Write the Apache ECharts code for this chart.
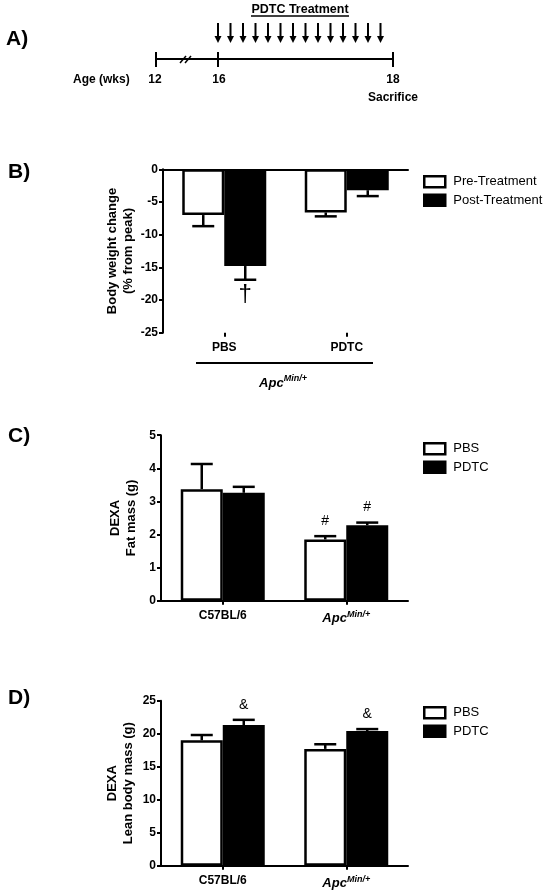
<!DOCTYPE html>
<html><head><meta charset="utf-8">
<script src="https://cdn.jsdelivr.net/npm/echarts@6/dist/echarts.min.js"></script>
<style>html,body{margin:0;padding:0;background:#fff}#c{width:550px;height:896px}</style>
</head><body><div id="c"></div>
<script>
const FONT = '"Liberation Sans", Arial, sans-serif';

// ---- Panel A (schematic): daily PDTC doses, days after week 16
const doseDays = [0,1,2,3,4,5,6,7,8,9,10,11,12,13];
const ageLabels = ['12','16','18'];

// ---- Panel B: body weight change (% from peak)
const bCategories = ['PBS','PDTC'];
const bPre = [-7.0, -6.6];
const bPreErr = [1.7, 0.6];
const bPost = [-14.8, -3.2];
const bPostErr = [2.1, 0.9];
const bPostMarks = ['\u2020',''];
const bTicks = {min:-25, max:0, interval:5};

// ---- Panel C: DEXA fat mass (g)
const cdCategories = ['C57BL/6','ApcMin/+'];
const cPBS = [3.37, 1.85];
const cPBSErr = [0.76, 0.10];
const cPDTC = [3.26, 2.28];
const cPDTCErr = [0.18, 0.08];
const cPBSMarks = ['', '#'];
const cPDTCMarks = ['', '#'];
const cTicks = {min:0, max:5, interval:1};

// ---- Panel D: DEXA lean body mass (g)
const dPBS = [19.0, 17.7];
const dPBSErr = [0.8, 0.7];
const dPDTC = [21.3, 20.4];
const dPDTCErr = [0.8, 0.3];
const dPBSMarks = ['', ''];
const dPDTCMarks = ['&', '&'];
const dTicks = {min:0, max:25, interval:5};

const BAR_W = 42;
const WHITE = {color:'#fff', borderColor:'#000', borderWidth:2.5};
const BLACK = {color:'#000', borderColor:'#000', borderWidth:2.5};

const catLabelFmt = v => v === 'ApcMin/+' ? '{i|Apc}{s|Min/+}' : v;
const richApc = {
  i:{fontFamily:FONT, fontWeight:'bold', fontStyle:'italic', fontSize:13, lineHeight:18, color:'#000'},
  s:{fontFamily:FONT, fontWeight:'bold', fontStyle:'italic', fontSize:9, lineHeight:10, verticalAlign:'top', color:'#000'}
};

function valueAxis(grid, t, name, gap){
  return {type:'value', gridIndex:grid, min:t.min, max:t.max, interval:t.interval,
    name:name, nameLocation:'middle', nameGap:gap, nameRotate:90,
    nameTextStyle:{fontFamily:FONT, fontWeight:'bold', fontSize:13, lineHeight:16, color:'#000'},
    axisLine:{show:true, lineStyle:{color:'#000', width:2}},
    axisTick:{show:true, length:4, lineStyle:{color:'#000', width:2}},
    axisLabel:{fontFamily:FONT, fontWeight:'bold', fontSize:12, color:'#000', margin:5},
    splitLine:{show:false}};
}
function catAxis(grid, cats, showLine){
  return {type:'category', gridIndex:grid, data:cats, position:'bottom',
    axisLine:{show:showLine, onZero:false, lineStyle:{color:'#000', width:2}},
    axisTick:{show:true, alignWithLabel:true, length:4, lineStyle:{color:'#000', width:2}},
    axisLabel:{fontFamily:FONT, fontWeight:'bold', fontSize:12, color:'#000', margin:9,
      formatter:catLabelFmt, rich:richApc}};
}
function barSeries(name, xi, yi, data, style){
  return {type:'bar', name:name, xAxisIndex:xi, yAxisIndex:yi, data:data,
    barWidth:BAR_W, barGap:'0%', itemStyle:style, emphasis:{disabled:true}, z:2};
}
function errSeries(xi, yi, vals, errs, marks, side, markSize){
  return {type:'custom', xAxisIndex:xi, yAxisIndex:yi, z:5, silent:true,
    data: vals.map((v,i)=>[i, v, errs[i]]),
    renderItem(params, api){
      const i = api.value(0), v = api.value(1), e = api.value(2);
      const sgn = v < 0 ? -1 : 1;
      const p0 = api.coord([i, v]);
      const p1 = api.coord([i, v + sgn*e]);
      const x = p0[0] + side*BAR_W/2;
      const st = {stroke:'#000', lineWidth:2.5};
      const ch = [
        {type:'line', shape:{x1:x, y1:p0[1], x2:x, y2:p1[1]}, style:st},
        {type:'line', shape:{x1:x-11, y1:p1[1], x2:x+11, y2:p1[1]}, style:st}
      ];
      const m = marks[params.dataIndex];
      if (m) ch.push({type:'text', style:{text:m, x:x, y:p1[1] + (sgn<0 ? 15 : -15),
        align:'center', verticalAlign:'middle', textAlign:'center', textVerticalAlign:'middle',
        font: markSize + 'px ' + FONT, fill:'#000'}});
      return {type:'group', children:ch};
    }};
}
function legend(top, names, styles){
  return {left:423, top:top, orient:'vertical', itemWidth:21, itemHeight:11, itemGap:5,
    padding:0, selectedMode:false, icon:'rect',
    data: names.map((n,k)=>({name:n, itemStyle:styles[k]})),
    textStyle:{fontFamily:FONT, fontSize:13, color:'#000', padding:[0,0,0,3]}};
}

const txt = (x,y,t,opt={}) => ({type:'text', x:x, y:y, style:Object.assign({text:t, fill:'#000',
  font:'bold 12px ' + FONT, align:'center', verticalAlign:'middle'}, opt)});
const ln = (x1,y1,x2,y2,w=2) => ({type:'line', shape:{x1,y1,x2,y2}, style:{stroke:'#000', lineWidth:w}});
const panelFont = 'bold 21px ' + FONT;

const option = {
  animation:false,
  backgroundColor:'#fff',
  grid:[
    {left:218, width:175, top:23, height:20},
    {left:163, width:245, top:169.3, height:163.4},
    {left:161, width:247, top:435.2, height:165.5},
    {left:161, width:247, top:700.7, height:165}
  ],
  xAxis:[
    {type:'value', gridIndex:0, min:16, max:18, show:false},
    catAxis(1, bCategories, false),
    {type:'category', gridIndex:1, data:bCategories, position:'top',
      axisLine:{show:true, onZero:false, lineStyle:{color:'#000', width:2}},
      axisTick:{show:false}, axisLabel:{show:false}},
    catAxis(2, cdCategories, true),
    catAxis(3, cdCategories, true)
  ],
  yAxis:[
    {type:'value', gridIndex:0, min:0, max:1, show:false},
    valueAxis(1, bTicks, 'Body weight change\n(% from peak)', 27),
    valueAxis(2, cTicks, 'DEXA\nFat mass (g)', 22),
    valueAxis(3, dTicks, 'DEXA\nLean body mass (g)', 25)
  ],
  legend:[
    legend(175, ['Pre-Treatment','Post-Treatment'], [WHITE, BLACK]),
    legend(442, ['PBS','PDTC'], [WHITE, BLACK]),
    legend(706, ['PBS','PDTC'], [WHITE, BLACK])
  ],
  series:[
    {type:'custom', xAxisIndex:0, yAxisIndex:0, silent:true,
      data: doseDays.map(d => [16 + d/7]),
      renderItem(params, api){
        const top = api.coord([api.value(0), 1]);
        const bot = api.coord([api.value(0), 0]);
        const x = top[0];
        return {type:'group', children:[
          {type:'line', shape:{x1:x, y1:top[1], x2:x, y2:bot[1]-5}, style:{stroke:'#000', lineWidth:2}},
          {type:'polygon', shape:{points:[[x-3.5, bot[1]-7],[x+3.5, bot[1]-7],[x, bot[1]]]}, style:{fill:'#000'}}
        ]};
      }},
    barSeries('Pre-Treatment', 1, 1, bPre, WHITE),
    barSeries('Post-Treatment', 1, 1, bPost, BLACK),
    errSeries(1, 1, bPre, bPreErr, ['',''], -1, 13),
    errSeries(1, 1, bPost, bPostErr, bPostMarks, 1, 24),
    barSeries('PBS', 3, 2, cPBS, WHITE),
    barSeries('PDTC', 3, 2, cPDTC, BLACK),
    errSeries(3, 2, cPBS, cPBSErr, cPBSMarks, -1, 14),
    errSeries(3, 2, cPDTC, cPDTCErr, cPDTCMarks, 1, 14),
    barSeries('PBS', 4, 3, dPBS, WHITE),
    barSeries('PDTC', 4, 3, dPDTC, BLACK),
    errSeries(4, 3, dPBS, dPBSErr, dPBSMarks, -1, 14),
    errSeries(4, 3, dPDTC, dPDTCErr, dPDTCMarks, 1, 14)
  ],
  graphic:[
    txt(6, 39, 'A)', {font:panelFont, align:'left'}),
    txt(8, 172, 'B)', {font:panelFont, align:'left'}),
    txt(8, 436, 'C)', {font:panelFont, align:'left'}),
    txt(8, 698, 'D)', {font:panelFont, align:'left'}),
    // Panel A timeline
    txt(300, 10, 'PDTC Treatment', {font:'bold 12.5px ' + FONT}),
    ln(251, 16, 349, 16, 1.5),
    ln(156, 59, 393, 59),
    ln(156, 52, 156, 67), ln(218, 52, 218, 67), ln(393, 52, 393, 67),
    ln(180, 63, 186, 56, 1.5), ln(185, 63, 191, 56, 1.5),
    txt(73, 80, 'Age (wks)', {align:'left'}),
    txt(155, 80, ageLabels[0]), txt(219, 80, ageLabels[1]), txt(393, 80, ageLabels[2]),
    txt(393, 98, 'Sacrifice'),
    // Panel B group bracket
    ln(196, 363, 373, 363),
    {type:'text', x:283, y:383, style:{text:'{i|Apc}{s|Min/+}', rich:richApc, align:'center', verticalAlign:'middle'}}
  ]
};
echarts.init(document.getElementById('c')).setOption(option);
</script></body></html>
